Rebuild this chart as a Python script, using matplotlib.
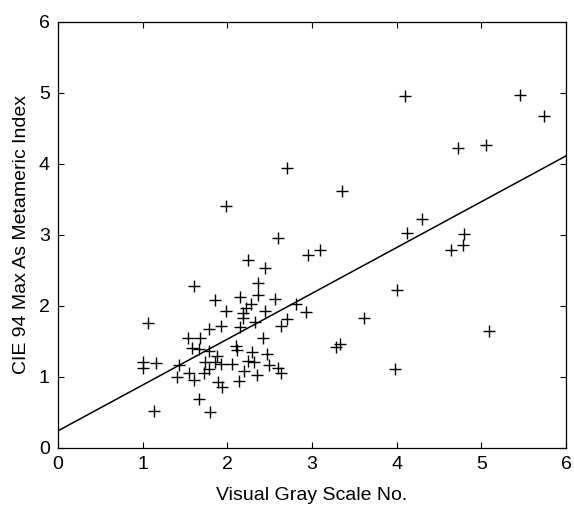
import numpy as np
import matplotlib.pyplot as plt

# visual gray scale vs. CIE94 max metameric index
gray_scale = [4.10, 5.46, 5.74, 4.72, 5.06, 2.71, 3.36, 1.98, 4.30, 4.12,
              2.60, 4.79, 4.64, 4.78, 2.95, 3.10, 2.24, 2.45, 1.61, 2.36,
              4.00, 3.61, 5.09, 3.28, 3.33, 3.98, 1.06, 1.00, 1.00, 1.16,
              1.14, 1.67, 1.80,
              2.81, 2.93, 2.71, 2.63, 2.56, 1.85, 2.15, 2.36, 1.98, 2.22,
              2.28, 2.45, 2.18, 2.18, 2.33, 1.92, 1.78, 2.15, 2.42, 1.54,
              1.68, 1.58, 1.66, 1.78, 2.10, 2.12, 2.29, 1.88, 2.47, 2.49,
              1.43, 1.74, 1.86, 1.92, 2.06, 2.24, 2.32, 1.78, 1.72, 2.20,
              2.35, 2.60, 2.63, 1.40, 1.55, 1.61, 1.89, 1.94, 2.14]
metameric_index = [4.96, 4.97, 4.67, 4.22, 4.26, 3.94, 3.62, 3.41, 3.22, 3.03,
                   2.95, 3.01, 2.78, 2.85, 2.72, 2.78, 2.64, 2.53, 2.28, 2.32,
                   2.22, 1.83, 1.64, 1.42, 1.46, 1.11, 1.76, 1.21, 1.12, 1.19,
                   0.52, 0.69, 0.51,
                   2.03, 1.91, 1.81, 1.72, 2.09, 2.08, 2.12, 2.15, 1.93, 1.97,
                   2.02, 1.93, 1.90, 1.83, 1.77, 1.71, 1.67, 1.70, 1.54, 1.54,
                   1.55, 1.41, 1.39, 1.37, 1.44, 1.38, 1.35, 1.30, 1.32, 1.17,
                   1.16, 1.21, 1.21, 1.18, 1.18, 1.23, 1.21, 1.11, 1.06, 1.08,
                   1.03, 1.12, 1.06, 1.00, 1.06, 0.96, 0.93, 0.86, 0.94]

# fitted line
fit_intercept = 0.24
fit_slope = 0.645

plt.rcParams['font.family'] = ['Liberation Sans', 'DejaVu Sans']

fig = plt.figure(figsize=(5.74, 5.16), dpi=100)
ax = fig.add_axes([0.101, 0.132, 0.885, 0.826])

ax.plot(gray_scale, metameric_index, '+', color='black', markersize=8, markeredgewidth=1.0)
xl = np.array([0, 6])
ax.plot(xl, fit_intercept + fit_slope * xl, color='black', linewidth=1.1)

ax.set_xlim(0, 6)
ax.set_ylim(0, 6)
ax.set_xticks(range(7))
ax.set_yticks(range(7))
ax.tick_params(direction='in', top=True, right=True, labelsize=14, length=4, pad=6)
for s in ax.spines.values():
    s.set_linewidth(0.9)

ax.set_xlabel('Visual Gray Scale No.', fontsize=14, labelpad=10)
ax.set_ylabel('CIE 94 Max As Metameric Index', fontsize=14, labelpad=6)

fig.savefig('out.png', dpi=100)
